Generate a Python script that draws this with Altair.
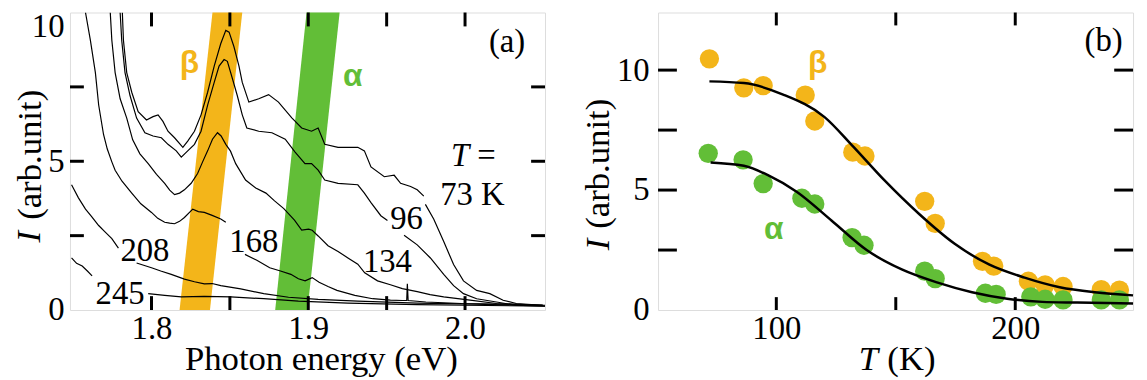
import altair as alt
import pandas as pd

ORANGE = "#F3B51A"
GREEN = "#62BE37"
SERIF = "serif"
SANS = "Liberation Sans"

# ---------------- panel (a): spectra (photon energy eV, intensity) ----------------
E_73a = [1.7814, 1.7821, 1.7842, 1.7874, 1.7915, 1.7968, 1.8010, 1.8042, 1.8073, 1.8105,
         1.8147, 1.8200, 1.8231, 1.8274, 1.8316, 1.8358, 1.8400, 1.8442, 1.8474, 1.8495,
         1.8526, 1.8558, 1.8579, 1.8621, 1.8684, 1.8747, 1.8810, 1.8895, 1.8958, 1.9021,
         1.9063, 1.9105, 1.9190, 1.9316, 1.9358, 1.9400, 1.9485, 1.9548, 1.9589, 1.9653,
         1.9695, 1.9737]
I_73a = [10.0, 9.07, 7.98, 7.32, 6.67, 6.39, 6.50, 6.56, 6.34, 6.01,
         5.79, 5.47, 5.68, 6.01, 6.56, 7.32, 8.20, 8.96, 9.40, 9.34,
         8.85, 8.20, 7.65, 6.99, 7.10, 7.24, 6.99, 6.46, 6.12, 6.01,
         6.12, 5.57, 5.47, 5.47, 5.35, 4.81, 4.48, 4.53, 4.26, 4.15,
         4.04, 3.83]
E_73b = [1.9747, 1.9800, 1.9864, 1.9927, 1.9990, 2.0074, 2.0158, 2.0243, 2.0327, 2.0495]
I_73b = [3.55, 3.06, 2.30, 1.53, 0.98, 0.66, 0.55, 0.33, 0.22, 0.16]

E_96a = [1.7800, 1.7810, 1.7831, 1.7863, 1.7905, 1.7958, 1.8010, 1.8063, 1.8105, 1.8158,
         1.8190, 1.8231, 1.8274, 1.8316, 1.8358, 1.8400, 1.8431, 1.8463, 1.8484, 1.8515,
         1.8547, 1.8579, 1.8608, 1.8684, 1.8768, 1.8853, 1.8916, 1.8979, 1.9021, 1.9063,
         1.9105, 1.9190, 1.9316, 1.9358, 1.9400, 1.9463, 1.9505]
I_96a = [10.0, 9.07, 7.98, 7.21, 6.45, 5.96, 5.85, 5.79, 5.57, 5.35,
         5.14, 5.35, 5.57, 6.01, 6.89, 7.65, 8.20, 8.42, 8.36, 7.80,
         7.21, 6.56, 6.12, 6.01, 5.96, 5.74, 5.31, 4.92, 4.92, 4.70,
         4.37, 4.26, 4.21, 3.93, 3.61, 3.17, 3.01]
E_96b = [1.9611, 1.9695, 1.9779, 1.9864, 1.9927, 1.9990, 2.0074, 2.0200, 2.0326, 2.0495]
I_96b = [2.51, 2.19, 1.75, 1.20, 0.82, 0.55, 0.38, 0.27, 0.16, 0.16]

E_134 = [1.7737, 1.7747, 1.7768, 1.7800, 1.7842, 1.7880, 1.7926, 1.7979, 1.8032, 1.8084,
         1.8116, 1.8147, 1.8179, 1.8210, 1.8253, 1.8294, 1.8326, 1.8358, 1.8389, 1.8421,
         1.8444, 1.8474, 1.8504, 1.8537, 1.8600, 1.8665, 1.8730, 1.8785, 1.8844, 1.8912,
         1.8958, 1.9002, 1.9025, 1.9063, 1.9126, 1.9190, 1.9253, 1.9316, 1.9360, 1.9442,
         1.9524, 1.9600, 1.9695, 1.9777, 1.9864, 2.0032, 2.0200, 2.0495]
I_134 = [10.0, 9.07, 7.98, 7.10, 6.45, 5.72, 5.25, 4.92, 4.56, 4.26,
         4.03, 3.88, 3.93, 4.04, 4.26, 4.59, 4.98, 5.35, 5.74, 5.96,
         5.85, 5.57, 5.34, 4.92, 4.37, 4.10, 3.93, 3.67, 3.41, 3.02,
         2.69, 2.72, 2.68, 2.49, 2.16, 1.97, 1.75, 1.54, 1.25, 0.98,
         0.85, 0.72, 0.62, 0.52, 0.44, 0.33, 0.22, 0.16]

E_168a = [1.7579, 1.7610, 1.7642, 1.7663, 1.7694, 1.7718, 1.7747, 1.7768, 1.7812, 1.7874,
          1.7932, 1.8000, 1.8040, 1.8084, 1.8116, 1.8147, 1.8179, 1.8210, 1.8263, 1.8299,
          1.8337, 1.8387, 1.8442, 1.8474]
I_168a = [10.0, 9.07, 7.98, 6.89, 5.90, 5.41, 4.98, 4.70, 4.33, 3.93,
          3.57, 3.28, 3.08, 2.95, 2.92, 2.90, 2.98, 3.11, 3.39, 3.31,
          3.28, 3.18, 3.06, 2.95]
E_168b = [1.8596, 1.8672, 1.8754, 1.8823, 1.8889, 1.8937, 1.8980, 1.9025, 1.9069, 1.9126,
          1.9183, 1.9297, 1.9411, 1.9524, 1.9600, 1.9628, 1.9632, 1.9637, 1.9750, 1.9977,
          2.0204, 2.0510]
I_168b = [1.87, 1.67, 1.42, 1.31, 1.20, 1.05, 0.98, 1.09, 0.93, 0.79,
          0.66, 0.49, 0.38, 0.33, 0.32, 0.32, 0.88, 0.32, 0.27, 0.22,
          0.20, 0.16]

E_208a = [1.7490, 1.7534, 1.7579, 1.7617, 1.7663, 1.7705, 1.7747, 1.7789]
I_208a = [4.21, 3.77, 3.39, 3.15, 2.84, 2.62, 2.40, 2.08]
E_208b = [1.7905, 1.8000, 1.8059, 1.8126, 1.8210, 1.8274, 1.8337, 1.8387, 1.8442, 1.8569,
          1.8716, 1.8874, 1.9063, 1.9316, 1.9695, 2.0074, 2.0510]
I_208b = [1.58, 1.42, 1.31, 1.20, 1.04, 0.95, 0.88, 0.89, 0.82, 0.71,
          0.55, 0.43, 0.36, 0.30, 0.23, 0.20, 0.13]

E_245a = [1.7490, 1.7522, 1.7558, 1.7591, 1.7621]
I_245a = [1.75, 1.57, 1.48, 1.31, 1.15]
E_245b = [1.7979, 1.8084, 1.8190, 1.8337, 1.8505, 1.8716, 1.8937, 1.9253, 1.9695, 2.0510]
I_245b = [0.55, 0.49, 0.44, 0.46, 0.44, 0.38, 0.30, 0.23, 0.18, 0.13]

# slanted marker bands: intensity limits and energy edges
band_I = [0, 10]
beta_lo = [1.8179, 1.8389]
beta_hi = [1.8373, 1.8579]
alpha_lo = [1.8789, 1.8989]
alpha_hi = [1.8995, 1.9200]

# temperature labels of panel (a)
lab_a_txt = ["208", "245", "168", "134", "96", "73 K", "(a)", "="]
lab_a_E = [1.7958, 1.7800, 1.8653, 1.9505, 1.9627, 2.0047, 2.0268, 2.0136]
lab_a_I = [1.99, 0.55, 2.30, 1.62, 3.04, 3.85, 9.02, 5.19]

# ---------------- panel (b): intensities vs temperature ----------------
T_beta = [72.0, 86.4, 94.5, 112.1, 116.1, 132.0, 137.1, 162.1, 166.5, 186.3,
          191.0, 205.5, 212.5, 220.0, 236.0, 243.6]
I_beta = [10.47, 9.26, 9.35, 8.96, 7.88, 6.58, 6.42, 4.53, 3.61, 2.03,
          1.83, 1.20, 1.05, 0.98, 0.85, 0.83]
T_alpha = [71.5, 86.1, 94.5, 110.7, 116.1, 131.7, 136.7, 162.1, 166.5, 187.5,
           192.0, 206.5, 212.5, 220.0, 236.0, 243.6]
I_alpha = [6.53, 6.26, 5.27, 4.66, 4.42, 3.02, 2.70, 1.62, 1.31, 0.70,
           0.65, 0.55, 0.45, 0.42, 0.42, 0.42]

Tfit_beta = [72.0, 86.4, 102.6, 120.2, 132.0, 145.2, 159.9, 174.5, 189.2, 203.9, 218.6, 233.3, 249.3]
Ifit_beta = [9.53, 9.46, 8.99, 8.04, 6.83, 5.41, 3.99, 2.77, 1.89, 1.35, 0.95, 0.74, 0.61]
Tfit_alpha = [72.5, 86.4, 96.7, 108.5, 123.2, 137.8, 152.5, 167.2, 181.9, 196.6, 211.3, 225.9, 249.3]
Ifit_alpha = [6.15, 6.01, 5.61, 4.93, 3.72, 2.50, 1.69, 1.15, 0.74, 0.47, 0.34, 0.31, 0.27]

# ---------------- tables ----------------
segments = [("73a", E_73a, I_73a), ("73b", E_73b, I_73b), ("96a", E_96a, I_96a),
            ("96b", E_96b, I_96b), ("134", E_134, I_134), ("168a", E_168a, I_168a),
            ("168b", E_168b, I_168b), ("208a", E_208a, I_208a), ("208b", E_208b, I_208b),
            ("245a", E_245a, I_245a), ("245b", E_245b, I_245b)]
rows = []
for name, es, vs in segments:
    for k, (e, v) in enumerate(zip(es, vs)):
        rows.append({"seg": name, "E": e, "I": v, "o": k})
spec_df = pd.DataFrame(rows)

band_rows = []
for i in range(2):
    band_rows.append({"band": "beta", "I": band_I[i], "lo": beta_lo[i], "hi": beta_hi[i]})
    band_rows.append({"band": "alpha", "I": band_I[i], "lo": alpha_lo[i], "hi": alpha_hi[i]})
band_df = pd.DataFrame(band_rows)
lab_a_df = pd.DataFrame({"txt": lab_a_txt, "E": lab_a_E, "I": lab_a_I})

W_A, W_B, H = 479, 479, 300
TICK_A = 14

xa = alt.Scale(domain=[1.748, 2.051], nice=False, zero=False)
ya = alt.Scale(domain=[0, 10], nice=False, zero=False)
xb = alt.Scale(domain=[50.5, 249.3], nice=False, zero=False)
yb = alt.Scale(domain=[0, 12.4], nice=False, zero=False)

common_axis = dict(ticks=False, domain=False, grid=False, labelFont=SERIF, labelFontSize=33,
                   labelColor="black", titleFont=SERIF, titleFontSize=35, titleColor="black",
                   titleFontWeight="normal", labelOverlap=False)

ax_xa = alt.Axis(values=[1.8, 1.9, 2.0], format=".1f", labelPadding=3,
                 title="Photon energy (eV)", titleX=253, titleY=60, titleAlign="center",
                 titleBaseline="alphabetic", titleAngle=0, **common_axis)
ax_ya = alt.Axis(values=[0, 5, 10], format="d", labelPadding=6,
                 labelBaseline={"condition": {"test": "datum.value == 10", "value": "top"}, "value": "middle"},
                 labelOffset={"condition": {"test": "datum.value == 10", "value": -1.75}, "value": 0},
                 title="(arb.unit)", titleX=-41, titleY=143, titleAngle=270, titleAlign="center",
                 titleBaseline="middle", **common_axis)
ax_xb = alt.Axis(values=[100, 200], format="d", labelPadding=3,
                 title="(K)", titleX=255, titleY=60, titleAlign="center",
                 titleBaseline="alphabetic", titleAngle=0, **common_axis)
ax_yb = alt.Axis(values=[0, 5, 10], format="d", labelPadding=9,
                 title="(arb.unit)", titleX=-60.5, titleY=152, titleAngle=270, titleAlign="center",
                 titleBaseline="middle", **common_axis)

XA = lambda f: alt.X(f, type="quantitative", scale=xa, axis=ax_xa)
YA = lambda f: alt.Y(f, type="quantitative", scale=ya, axis=ax_ya)
XB = lambda f: alt.X(f, type="quantitative", scale=xb, axis=ax_xb)
YB = lambda f: alt.Y(f, type="quantitative", scale=yb, axis=ax_yb)
band_color = alt.Color("band:N", scale=alt.Scale(domain=["beta", "alpha"], range=[ORANGE, GREEN]),
                       legend=None)

# ---- panel (a) layers ----
bands = alt.Chart(band_df).mark_area(orient="horizontal", opacity=1).encode(
    y=YA("I"), x=XA("lo"), x2="hi", color=band_color)
lines_a = alt.Chart(spec_df).mark_line(color="black", strokeWidth=1.2, clip=True).encode(
    x=XA("E"), y=YA("I"), detail="seg:N", order="o:Q")
xt_a = pd.DataFrame({"v": [1.8, 1.85, 1.9, 1.95, 2.0]})
yt_a = pd.DataFrame({"v": [2.5, 5, 7.5]})
tk = dict(color="black", strokeWidth=3)
ticks_a = [
    alt.Chart(xt_a).mark_rule(**tk).encode(x=XA("v"), y=alt.value(H), y2=alt.value(H - TICK_A)),
    alt.Chart(xt_a).mark_rule(**tk).encode(x=XA("v"), y=alt.value(0), y2=alt.value(TICK_A)),
    alt.Chart(yt_a).mark_rule(**tk).encode(y=YA("v"), x=alt.value(0), x2=alt.value(TICK_A)),
    alt.Chart(yt_a).mark_rule(**tk).encode(y=YA("v"), x=alt.value(W_A), x2=alt.value(W_A - TICK_A)),
]
labels_a = alt.Chart(lab_a_df).mark_text(font=SERIF, fontSize=33, color="black", align="center",
                                         baseline="middle").encode(x=XA("E"), y=YA("I"), text="txt:N")
t_lab = alt.Chart(pd.DataFrame({"txt": ["T"], "E": [1.9969], "I": [5.19]})).mark_text(
    font=SERIF, fontSize=33, fontStyle="italic", color="black", baseline="middle").encode(
    x=XA("E"), y=YA("I"), text="txt:N")
greek_a = alt.Chart(pd.DataFrame({"txt": ["β", "α"], "E": [1.8242, 1.9284], "I": [8.31, 7.85],
                                  "band": ["beta", "alpha"]})).mark_text(
    font=SANS, fontSize=32, fontWeight="bold", baseline="middle").encode(
    x=XA("E"), y=YA("I"), text="txt:N", color=band_color)
ital_I_a = alt.Chart(pd.DataFrame({"t": ["I"]})).mark_text(
    font=SERIF, fontSize=35, fontStyle="italic", angle=270, align="center", baseline="middle",
    color="black").encode(x=alt.value(-41), y=alt.value(226), text="t:N")

panel_a = alt.layer(bands, lines_a, *ticks_a, labels_a, t_lab, greek_a, ital_I_a).properties(
    width=W_A, height=H)

# ---- panel (b) layers ----
pts_df = pd.DataFrame({"T": T_beta + T_alpha, "I": I_beta + I_alpha,
                       "band": ["beta"] * len(T_beta) + ["alpha"] * len(T_alpha)})
fit_df = pd.DataFrame({"T": Tfit_beta + Tfit_alpha, "I": Ifit_beta + Ifit_alpha,
                       "band": ["beta"] * len(Tfit_beta) + ["alpha"] * len(Tfit_alpha)})
pts = alt.Chart(pts_df).mark_circle(size=380, opacity=1).encode(
    x=XB("T"), y=YB("I"), color=band_color)
fits = alt.Chart(fit_df).mark_line(color="black", strokeWidth=2.5, interpolate="monotone").encode(
    x=XB("T"), y=YB("I"), detail="band:N")
xt_b = pd.DataFrame({"v": [100, 150, 200]})
yt_b = pd.DataFrame({"v": [2.5, 5, 7.5, 10]})
ticks_b = [
    alt.Chart(xt_b).mark_rule(**tk).encode(x=XB("v"), y=alt.value(H), y2=alt.value(H - 13)),
    alt.Chart(xt_b).mark_rule(**tk).encode(x=XB("v"), y=alt.value(0), y2=alt.value(13)),
    alt.Chart(yt_b).mark_rule(**tk).encode(y=YB("v"), x=alt.value(0), x2=alt.value(19)),
    alt.Chart(yt_b).mark_rule(**tk).encode(y=YB("v"), x=alt.value(W_B), x2=alt.value(W_B - 19)),
]
greek_b = alt.Chart(pd.DataFrame({"txt": ["β", "α"], "T": [117.3, 98.9], "I": [10.31, 3.38],
                                  "band": ["beta", "alpha"]})).mark_text(
    font=SANS, fontSize=32, fontWeight="bold", baseline="middle").encode(
    x=XB("T"), y=YB("I"), text="txt:N", color=band_color)
lab_b = alt.Chart(pd.DataFrame({"txt": ["(b)"], "T": [237.0], "I": [11.22]})).mark_text(
    font=SERIF, fontSize=33, color="black", baseline="middle").encode(x=XB("T"), y=YB("I"), text="txt:N")
ital_I_b = alt.Chart(pd.DataFrame({"t": ["I"]})).mark_text(
    font=SERIF, fontSize=35, fontStyle="italic", angle=270, align="center", baseline="middle",
    color="black").encode(x=alt.value(-60.5), y=alt.value(234), text="t:N")
ital_T_b = alt.Chart(pd.DataFrame({"t": ["T"]})).mark_text(
    font=SERIF, fontSize=35, fontStyle="italic", align="center", baseline="alphabetic",
    color="black").encode(x=alt.value(212), y=alt.value(H + 60), text="t:N")

panel_b = alt.layer(pts, fits, *ticks_b, greek_b, lab_b, ital_I_b, ital_T_b).properties(
    width=W_B, height=H)

chart = alt.hconcat(panel_a, panel_b, spacing=34).properties(
    padding={"left": 3.5, "top": 0, "right": 0, "bottom": 0}).configure_view(
    stroke="black", strokeWidth=3.5).configure(background="white")

chart.save("out.html", embed_options={"renderer": "svg", "actions": False})
